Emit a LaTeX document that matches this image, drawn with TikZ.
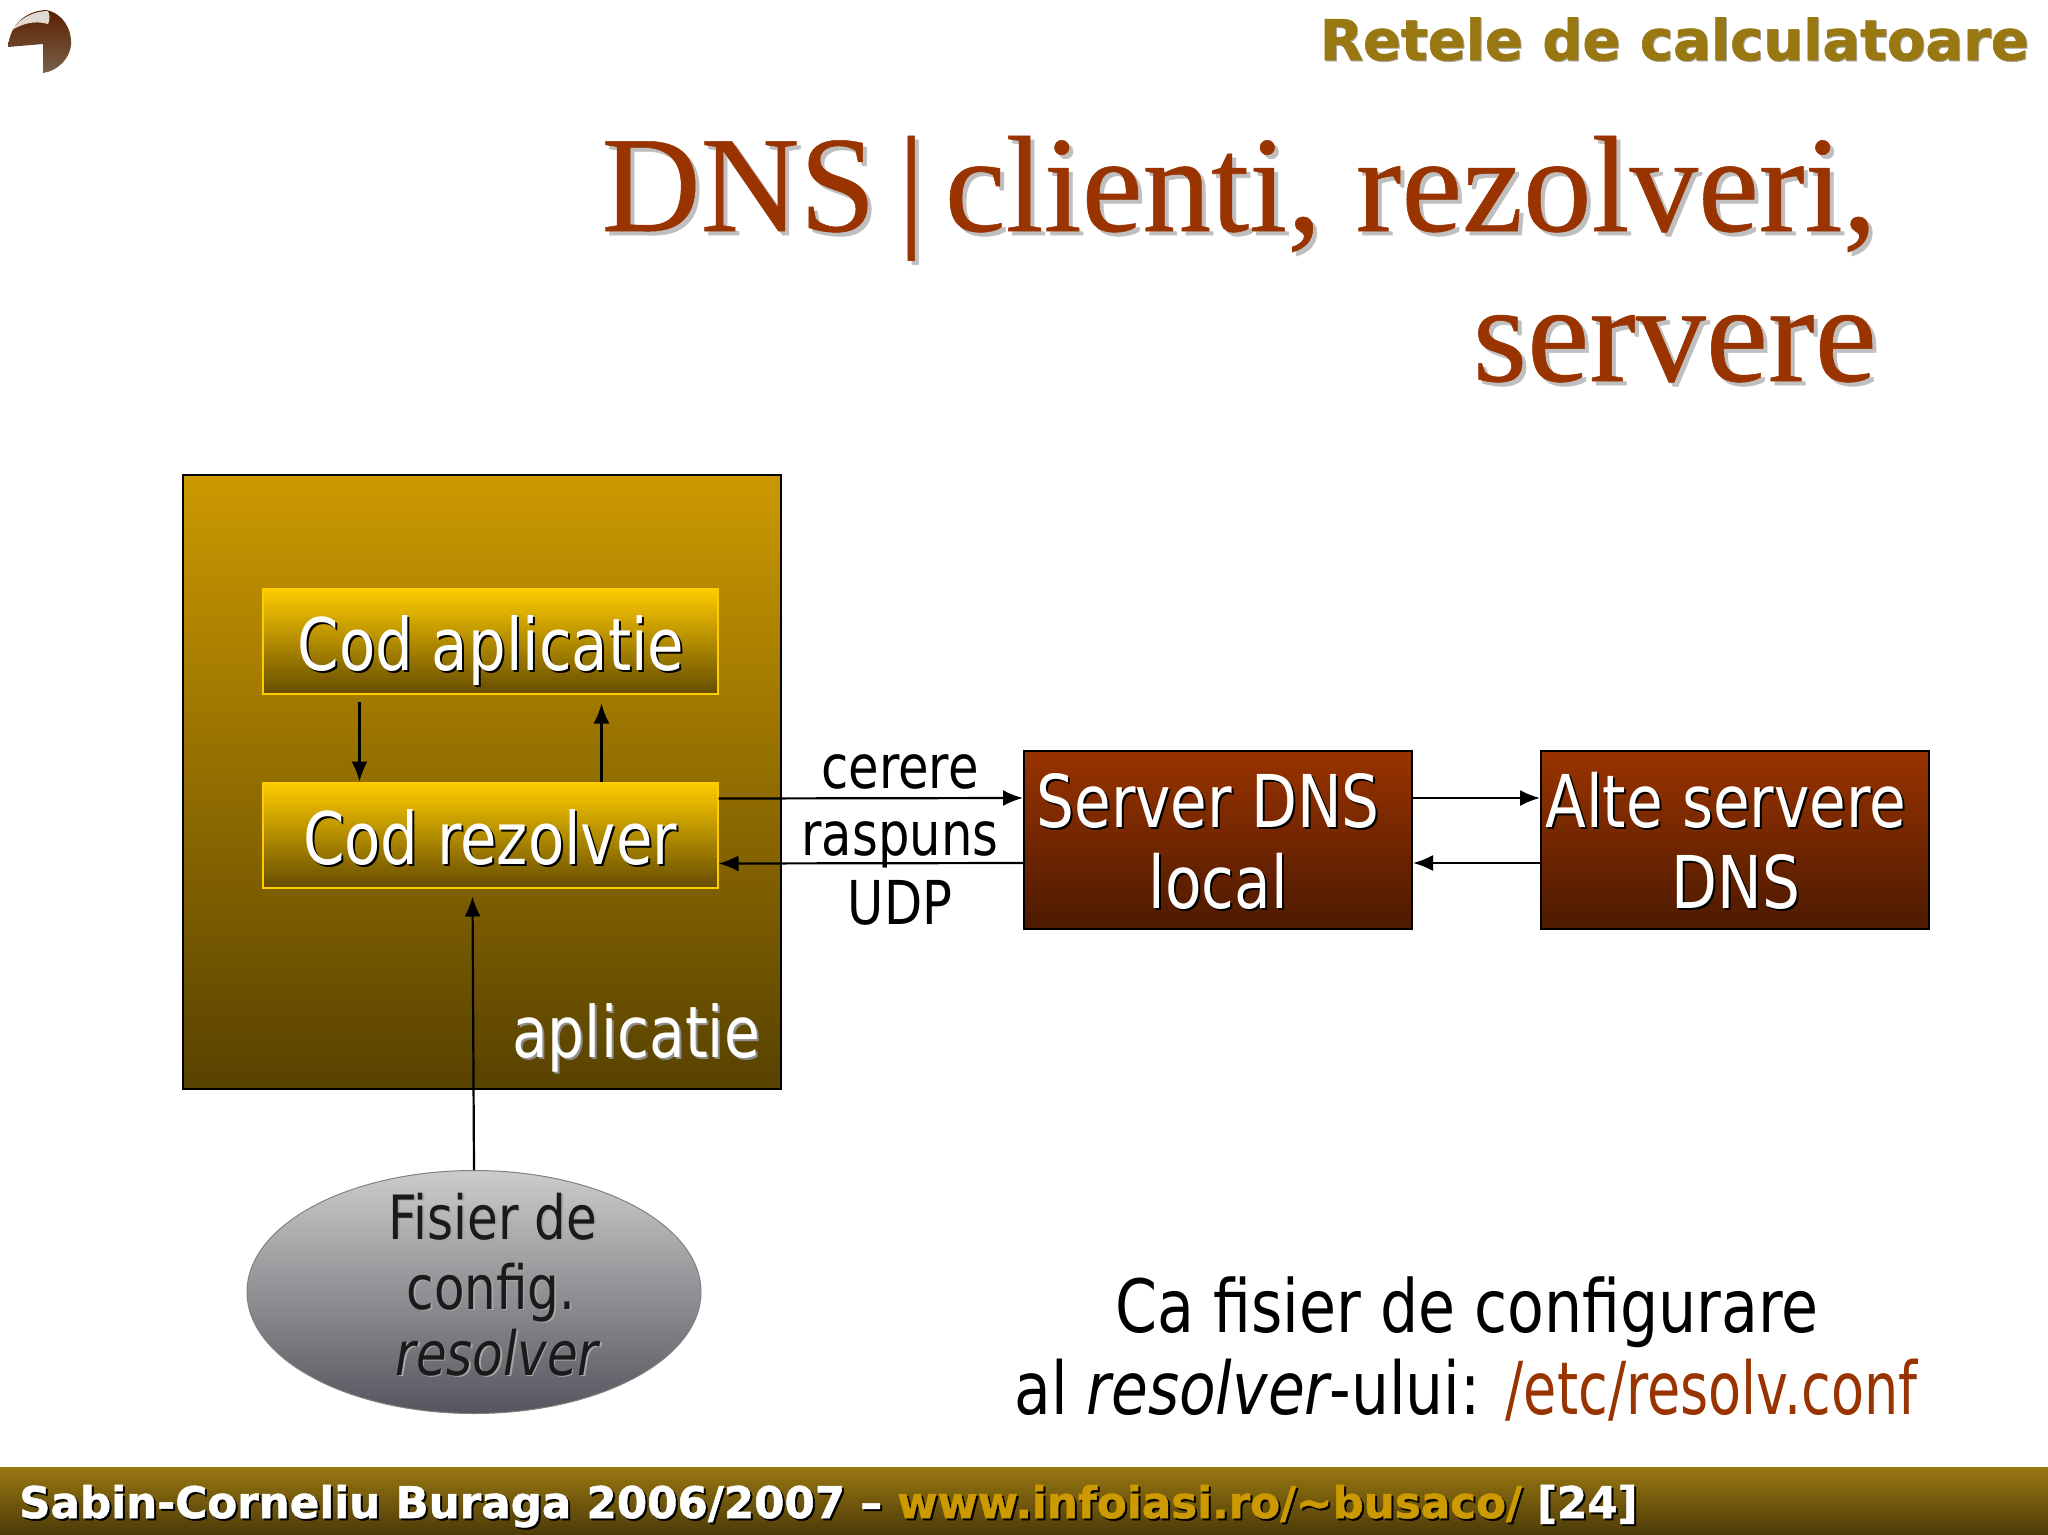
\documentclass[tikz,border=0pt]{standalone}
\usepackage{fontspec}
\usepackage{xcolor}
\usetikzlibrary{arrows.meta,shapes.geometric,calc}
\setmainfont{Liberation Serif}
\newfontfamily\taho[FakeStretch=0.82]{DejaVu Sans}
\newfontfamily\tahon[FakeStretch=0.74]{DejaVu Sans}
\newfontfamily\verd[FakeBold=1.2]{DejaVu Sans Bold}
\newfontfamily\serifb[FakeBold=0.4]{Liberation Serif}
\definecolor{rust}{HTML}{993300}
\definecolor{gold}{HTML}{CC9900}
\definecolor{hdr}{HTML}{997711}
\definecolor{ylw}{HTML}{FFCC00}
\definecolor{ellbot}{HTML}{55555E}
\definecolor{ink}{HTML}{1A1A1A}
\newcommand\shad[4]{\makebox[0pt][l]{\raisebox{-#4}{\hspace{#4}\textcolor{#2}{#3}}}\textcolor{#1}{#3}}
\newcommand\fs[1]{\fontsize{#1}{#1}\selectfont}
% one line placed by its baseline, relative to the centre of its node
\newcommand\tl[3]{\kern#1\makebox[0pt]{\raisebox{#2}[0pt][0pt]{#3}}\kern-#1\relax}
\tikzset{
  arr/.style={draw=black,line width=2.2pt,-{Latex[length=20pt,width=16pt]}},
  txt/.style={inner sep=0pt,anchor=base,text=black},
  outerbox/.style={draw=black,line width=2.4pt,top color=gold,bottom color=gold!43!black},
  yellowbox/.style={draw=ylw,line width=2pt,top color=ylw,bottom color=gold!50!black,inner sep=0pt,minimum width=455pt,minimum height=105pt},
  redbox/.style={draw=black,line width=2pt,top color=rust,bottom color=rust!50!black,inner sep=0pt,minimum width=388pt,minimum height=178pt},
}
\begin{document}
\begin{tikzpicture}[x=1pt,y=-1pt]
\useasboundingbox (0,0) rectangle (2048,1534);
\fill[white] (0,0) rectangle (2048,1534);
% logo
\shade[top color=rust!60!black,middle color=rust!55!black,bottom color=black!55!brown!80!white]
  (8,47) .. controls (10,24) and (26,11) .. (46,10) .. controls (62,13) and (72,28) .. (71,45)
  .. controls (70,58) and (58,71) .. (43,73) -- (43,44) -- cycle;
\shade[top color=black!15,bottom color=white!70!brown] (12,30) .. controls (20,18) and (34,11) .. (48,11) .. controls (50,15) and (50,20) .. (48,24) .. controls (34,20) and (22,24) .. (12,30) -- cycle;
% header
\node[inner sep=0pt,anchor=base east] (header) at (2029,60) {\verd\fs{56}\shad{hdr}{black!35}{Retele de calculatoare}{1pt}};
% title
\node[inner sep=0pt,anchor=base east] (title1) at (1877,231) {\serifb\fs{137}\shad{rust}{black!25}{DNS\kern-1pt\,|\kern-3pt\,clienti, rezolveri,}{4pt}};
\node[inner sep=0pt,anchor=base east] (title2) at (1877,381) {\serifb\fs{140}\shad{rust}{black!25}{servere}{4pt}};
% boxes
\node[outerbox,inner sep=0pt,minimum width=598pt,minimum height=614pt] (app) at (482,782) {};
\node[inner sep=0pt,anchor=base] (applbl) at (636,1057) {\taho\fs{71}\shad{white}{black!45}{aplicatie}{2pt}};
\node[yellowbox] (cod) at (490,641) {\taho\fs{72.4}\tl{1pt}{-29pt}{\shad{white}{black}{Cod aplicatie}{2pt}}};
\node[yellowbox] (rez) at (490,835) {\taho\fs{72.4}\tl{0pt}{-29pt}{\shad{white}{black}{Cod rezolver}{2pt}}};
\node[redbox] (srv) at (1218,840) {\taho\fs{72.8}\tl{-10pt}{13pt}{\shad{white}{black}{Server DNS}{2pt}}\tl{0pt}{-68pt}{\shad{white}{black}{local}{2pt}}};
\node[redbox] (alte) at (1735,840) {\taho\fs{72.8}\tl{-9pt}{13pt}{\shad{white}{black}{Alte servere}{2pt}}\tl{1pt}{-68pt}{\shad{white}{black}{DNS}{2pt}}};
\node[ellipse,draw=gray,line width=1pt,top color=black!20,bottom color=ellbot,inner sep=0pt,minimum width=454pt,minimum height=243pt] (cfg) at (474,1292) {};
\node[txt] (f1) at (493,1239) {\taho\fs{61}\shad{ink}{black!35}{Fisier de}{1.5pt}};
\node[txt] (f2) at (491,1309) {\taho\fs{61}\shad{ink}{black!35}{config.}{1.5pt}};
\node[txt] (f3) at (497,1375) {\taho\fs{61}\itshape\shad{ink}{black!35}{resolver}{1.5pt}};
% connector labels
\node[txt] (l1) at (900,788) {\taho\fs{60.5}cerere};
\node[txt] (l2) at (900,855) {\taho\fs{60.5}raspuns};
\node[txt] (l3) at (900,924) {\taho\fs{60.5}UDP};
% note
\node[txt] (n1) at (1467,1332) {\taho\fs{73.4}Ca fisier de configurare};
\node[txt] (n2) at (1466,1414) {\taho\fs{73}al {\itshape resolver}-ului: \textcolor{rust}{\tahon\fs{73}/etc/resolv.conf}};
% connectors
\draw[arr] ($(cod.south west)+(98,7)$) -- ($(rez.north west)+(98,0)$);
\draw[arr] ($(rez.north west)+(340,0)$) -- ($(cod.south west)+(340,9)$);
\draw[arr] ($(rez.north east)+(0,17)$) -- ($(srv.north west)+(0,48)$);
\draw[arr] ($(srv.north west)+(0,113)$) -- ($(rez.north east)+(0,82)$);
\draw[arr] ($(srv.north east)+(0,48)$) -- ($(alte.north west)+(0,48)$);
\draw[arr] ($(alte.north west)+(0,113)$) -- ($(srv.north east)+(0,113)$);
\draw[arr] (cfg.north) -- ($(rez.south west)+(211,8)$);
% footer
\shade[top color=hdr,bottom color=hdr!50!black] (0,1467) rectangle (2048,1534);
\node[inner sep=0pt,anchor=base west] (foot) at (19,1518) {\verd\fs{43.6}\shad{white}{black}{Sabin-Corneliu Buraga 2006/2007 –}{2pt} \shad{gold}{black}{www.infoiasi.ro/\string~busaco/}{2pt} \shad{white}{black}{[24]}{2pt}};
\end{tikzpicture}
\end{document}
